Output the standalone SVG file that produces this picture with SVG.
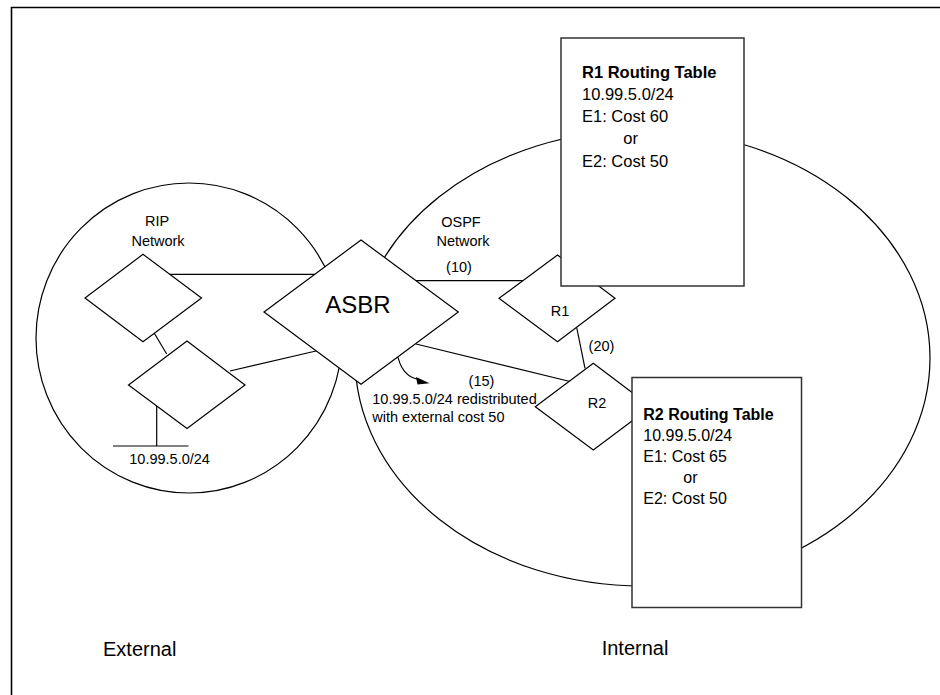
<svg xmlns="http://www.w3.org/2000/svg" width="940" height="695" viewBox="0 0 940 695">
<style>
.ln{fill:none;stroke:#000;stroke-width:1.2}
.sh{fill:#fff;stroke:#000;stroke-width:1.2}
.tb{fill:#fff;stroke:#333;stroke-width:1.5}
text{font-family:"Liberation Sans",Arial,sans-serif;fill:#000}
.s14{font-size:14.5px}
.s16{font-size:16px}
.b{font-weight:bold}
</style>
<rect width="940" height="695" fill="#fff"/>
<polyline points="11.5,695 11.5,7.5 940,7.5" fill="none" stroke="#000" stroke-width="1.6"/>
<g id="rip-network">
<ellipse class="ln" cx="189" cy="338" rx="153" ry="155"/>
<text class="s14" x="157" y="226" text-anchor="middle">RIP</text>
<text class="s14" x="158" y="245.5" text-anchor="middle">Network</text>
</g>
<g id="ospf-network">
<ellipse class="ln" cx="642.5" cy="358" rx="287.5" ry="228"/>
<text class="s14" x="461" y="226.5" text-anchor="middle">OSPF</text>
<text class="s14" x="463" y="245.5" text-anchor="middle">Network</text>
</g>
<g id="connectors">
<line class="ln" x1="170" y1="274.3" x2="315.5" y2="274.3"/>
<line class="ln" x1="230" y1="371" x2="316" y2="351"/>
<line class="ln" x1="154.3" y1="333.3" x2="166.7" y2="354"/>
<line class="ln" x1="156.7" y1="405" x2="156.7" y2="446"/>
<line class="ln" x1="113" y1="446" x2="188.5" y2="446"/>
<line class="ln" x1="415.5" y1="280.7" x2="522.6" y2="280.7"/>
<line class="ln" x1="576.7" y1="327.5" x2="585" y2="368.3"/>
<line class="ln" x1="416" y1="344" x2="570" y2="381.5"/>
<path class="ln" d="M395,343 C398,362 402,376 418,379.5"/>
<polygon points="416,377 429.5,383.2 417.5,384.5" fill="#000"/>
<text class="s14" x="459" y="271.5" text-anchor="middle">(10)</text>
<text class="s14" x="601.5" y="350.5" text-anchor="middle">(20)</text>
<text class="s14" x="481.5" y="385.5" text-anchor="middle">(15)</text>
<text class="s14" x="372.3" y="404">10.99.5.0/24 redistributed</text>
<text class="s14" x="372.3" y="422.3">with external cost 50</text>
</g>
<g id="rip-router-1">
<polygon class="sh" points="143,254.3 201.5,298 143,341.7 85,298"/>
</g>
<g id="rip-router-2">
<polygon class="sh" points="187,341 245,385 187,428.5 128.5,385"/>
</g>
<g id="subnet">
<text class="s14" x="129.3" y="464">10.99.5.0/24</text>
</g>
<g id="asbr">
<polygon class="sh" points="361,240 458.3,312 361,384.3 264,312"/>
<text x="358" y="313" font-size="24" text-anchor="middle">ASBR</text>
</g>
<g id="r1">
<polygon class="sh" points="557.5,255 615,298.3 557.5,341.7 499,298.3"/>
<text class="s14" x="560" y="316" text-anchor="middle">R1</text>
</g>
<g id="r2">
<polygon class="sh" points="593.3,363.3 651,406.7 593.3,450 535.3,406.7"/>
<text class="s14" x="597" y="408.3" text-anchor="middle">R2</text>
</g>
<g id="r1-table">
<rect class="tb" x="561" y="38" width="183" height="248"/>
<text x="582" y="77.7" font-size="16.5" class="b">R1 Routing Table</text>
<text x="582" y="100" font-size="16.5">10.99.5.0/24</text>
<text x="582" y="122.3" font-size="16.5">E1: Cost 60</text>
<text x="623.3" y="144.3" font-size="16.5">or</text>
<text x="582" y="166.7" font-size="16.5">E2: Cost 50</text>
</g>
<g id="r2-table">
<rect class="tb" x="632" y="377.5" width="169.5" height="230"/>
<text class="s16 b" x="643.3" y="420">R2 Routing Table</text>
<text class="s16" x="643.3" y="441">10.99.5.0/24</text>
<text class="s16" x="643.3" y="461.7">E1: Cost 65</text>
<text class="s16" x="683.3" y="483.3">or</text>
<text class="s16" x="643.3" y="504">E2: Cost 50</text>
</g>
<g id="labels">
<text x="103" y="656" font-size="20">External</text>
<text x="601.7" y="655" font-size="20">Internal</text>
</g>
</svg>
